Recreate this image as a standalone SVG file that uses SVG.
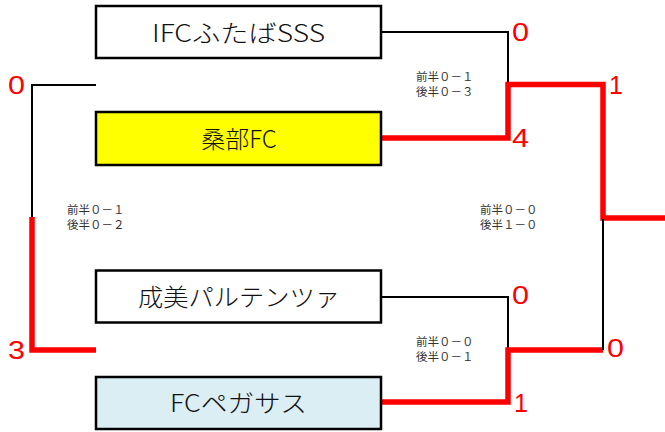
<svg xmlns="http://www.w3.org/2000/svg" width="665" height="432" viewBox="0 0 665 432">
<style>
.box{stroke:#000;stroke-width:2.5}
.name{font-family:"Noto Sans CJK JP","Liberation Sans",sans-serif;font-size:24px;font-weight:300;fill:#111;text-anchor:middle}
.note{font-family:"Noto Sans CJK JP","Liberation Sans",sans-serif;font-size:11.5px;fill:#333}
.score{font-family:"Liberation Sans","Noto Sans CJK JP",sans-serif;font-size:25px;fill:#ff0000}
.lose{fill:none;stroke:#000;stroke-width:2}
.win{fill:none;stroke:#ff0000;stroke-width:5.5}
</style>
<rect width="665" height="432" fill="#fff"/>
<g id="connectors">
<polyline class="lose" points="381,32 508,32 508,86"/>
<polyline class="win" points="381,138 508,138 508,84.5 603,84.5 603,218 665,218"/>
<polyline class="lose" points="96,85 32,85 32,218"/>
<polyline class="win" points="32,217 32,350 96,350"/>
<polyline class="lose" points="381,297 508,297 508,350"/>
<polyline class="win" points="381,402 508,402 508,350 603,350"/>
<polyline class="lose" points="603,350 603,219"/>
</g>
<g id="team1">
<rect class="box" x="96" y="6" width="285" height="52" fill="#fff"/>
<text class="name" x="238.5" y="42" textLength="173" lengthAdjust="spacingAndGlyphs">IFCふたばSSS</text>
</g>
<g id="team2">
<rect class="box" x="96" y="112" width="285" height="53" fill="#ffff00"/>
<text class="name" x="239" y="148">桑部FC</text>
</g>
<g id="team3">
<rect class="box" x="96" y="270.5" width="285" height="52" fill="#fff"/>
<text class="name" x="239" y="306" textLength="202" lengthAdjust="spacingAndGlyphs">成美パルテンツァ</text>
</g>
<g id="team4">
<rect class="box" x="96" y="377" width="285" height="52" fill="#daeef3"/>
<text class="name" x="238.5" y="412" textLength="137" lengthAdjust="spacingAndGlyphs">FCペガサス</text>
</g>
<g id="scores">
<text class="score" x="512" y="41" textLength="17" lengthAdjust="spacingAndGlyphs">0</text>
<text class="score" x="609" y="94">1</text>
<text class="score" x="512" y="147" textLength="17" lengthAdjust="spacingAndGlyphs">4</text>
<text class="score" x="8" y="94" textLength="17" lengthAdjust="spacingAndGlyphs">0</text>
<text class="score" x="8" y="359" textLength="17" lengthAdjust="spacingAndGlyphs">3</text>
<text class="score" x="512" y="304" textLength="17" lengthAdjust="spacingAndGlyphs">0</text>
<text class="score" x="514" y="412">1</text>
<text class="score" x="607" y="357" textLength="17" lengthAdjust="spacingAndGlyphs">0</text>
</g>
<g id="notes">
<text class="note" x="416" y="81">前半０－１<tspan x="416" dy="15">後半０－３</tspan></text>
<text class="note" x="67" y="214">前半０－１<tspan x="67" dy="15">後半０－２</tspan></text>
<text class="note" x="480" y="214">前半０－０<tspan x="480" dy="15">後半１－０</tspan></text>
<text class="note" x="416" y="346">前半０－０<tspan x="416" dy="15">後半０－１</tspan></text>
</g>
</svg>
